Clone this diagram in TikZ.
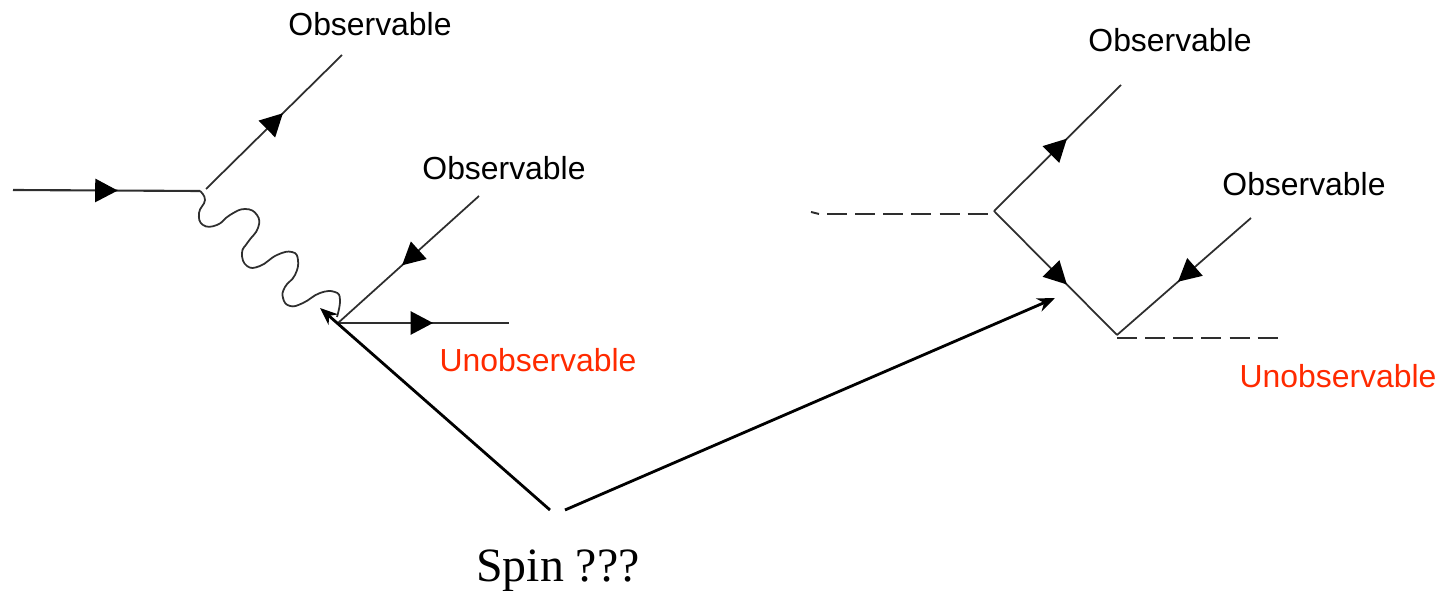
\documentclass[tikz,border=0pt]{standalone}
\usepackage{xcolor}
\usepackage{fontspec}
\setmainfont{Liberation Sans}
\newfontfamily\serifspin{Liberation Serif}
\usepackage{tikz}
\usetikzlibrary{arrows.meta,decorations.markings}
\definecolor{cLine}{HTML}{2E2E2E}
\definecolor{cUnobs}{HTML}{FF2A00}
\tikzset{
  fermion/.style={cLine,line width=0.5pt,postaction={decorate},
    decoration={markings,mark=at position #1 with {\arrow[black]{Triangle[length=6.4pt,width=6.6pt]}}}},
  scalar/.style={cLine,line width=0.55pt,dash pattern=on 5.7pt off 2.3pt},
  pointer/.style={black,line width=0.8pt,-{Stealth[length=5pt,width=4pt]}},
  obs/.style={font=\fontsize{9.07}{11}\selectfont,text=black,inner sep=0pt},
  unobs/.style={font=\fontsize{9.07}{11}\selectfont,text=cUnobs,inner sep=0pt}
}
\begin{document}
\begin{tikzpicture}[x=0.01cm,y=-0.01cm]
  \useasboundingbox (0,0) rectangle (1441,591);
  % left diagram
  \coordinate (inL) at (13,190);
  \coordinate (kinkL) at (200,191);
  \coordinate (startUL) at (206,189);
  \coordinate (endUL) at (342,55);
  \coordinate (vertexL) at (338,323);
  \coordinate (endLL) at (479,196);
  \coordinate (endH) at (509,323);
  \draw[fermion=0.56,line width=0.6pt] (inL) -- (kinkL);
  \draw[fermion=0.566] (startUL) -- (endUL);
  \draw[fermion=0.546] (endLL) -- (vertexL);
  \draw[fermion=0.556,line width=0.6pt] (vertexL) -- (endH);
  \draw[cLine,line width=0.5pt] plot[smooth,tension=0.8] coordinates {(200,191) (205,200) (199,213) (203,225) (217,225) (230,215) (245,209) (257,215) (258,228) (248,242) (242,253) (247,266) (260,266) (277,255) (292,252) (298,260) (295,275) (285,287) (283,298) (290,306) (303,303) (320,293) (335,292) (340,300) (337,317)};
  % right diagram
  \coordinate (tickS) at (811,212);
  \coordinate (tickE) at (819,214);
  \coordinate (inR) at (827,214);
  \coordinate (stopR) at (988,214);
  \coordinate (vertexR) at (994,211);
  \coordinate (endUR) at (1121,85);
  \coordinate (vertexB) at (1117,335);
  \coordinate (endLR) at (1251,218);
  \coordinate (startD) at (1117,338);
  \coordinate (endD) at (1279,338);
  \draw[cLine,line width=0.55pt] (tickS) -- (tickE);
  \draw[scalar] (inR) -- (stopR);
  \draw[fermion=0.575] (vertexR) -- (endUR);
  \draw[fermion=0.593] (vertexR) -- (vertexB);
  \draw[fermion=0.545] (endLR) -- (vertexB);
  \draw[scalar] (startD) -- (endD);
  % labels
  \node[obs] (obsA) at (370,24) {Observable};
  \node[obs] (obsB) at (504,168) {Observable};
  \node[obs] (obsC) at (1170,40) {Observable};
  \node[obs] (obsD) at (1304,184) {Observable};
  \node[unobs] (unobsL) at (538,360) {Unobservable};
  \node[unobs] (unobsR) at (1338,376) {Unobservable};
  \node[font=\serifspin\fontsize{13.6}{16}\selectfont,inner sep=0pt] (spin) at (558,571) {Spin ???};
  % pointers from the question
  \coordinate (fromL) at (550,510);
  \coordinate (toL) at (320,308);
  \coordinate (fromR) at (565,510);
  \coordinate (toR) at (1055,298);
  \draw[pointer] (fromL) -- (toL);
  \draw[pointer] (fromR) -- (toR);
\end{tikzpicture}
\end{document}
